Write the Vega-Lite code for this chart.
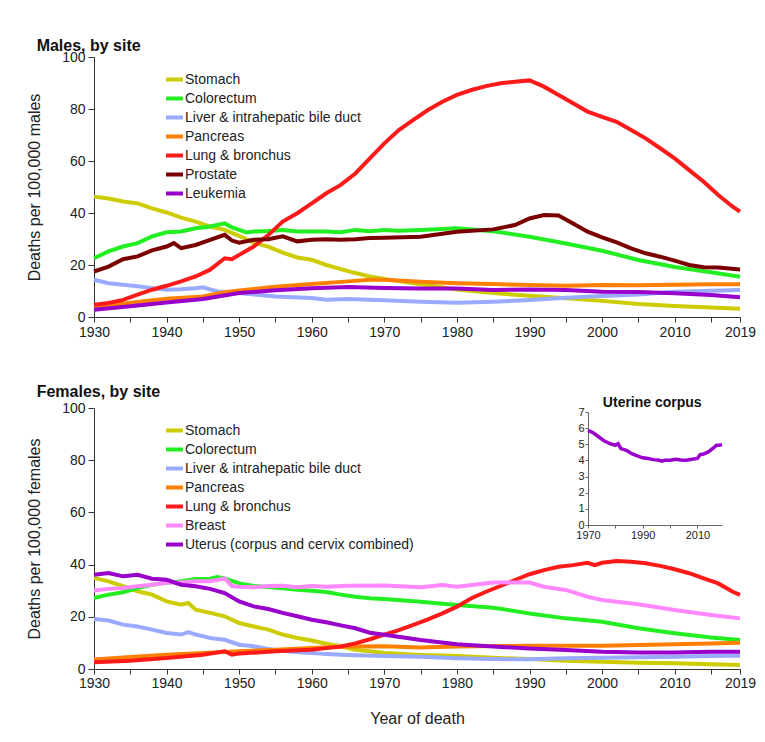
{
  "$schema": "https://vega.github.io/schema/vega-lite/v6.json",
  "padding": {"left": 26, "top": 38, "right": 5, "bottom": 5},
  "bounds": "flush",
  "spacing": 91,
  "config": {
    "view": {"stroke": null},
    "font": "Liberation Sans",
    "axis": {"grid": false, "domainColor": "#333", "tickColor": "#333", "labelColor": "#222", "labelFontSize": 14, "titleFontSize": 16, "titleFontWeight": "normal", "titleColor": "#222", "tickSize": 6, "labelFlush": false, "labelOverlap": false, "labelFont": "Liberation Sans", "titleFont": "Liberation Sans"},
    "legend": {"symbolType": "stroke", "symbolStrokeWidth": 4, "symbolSize": 289, "labelFontSize": 14, "labelColor": "#222", "rowPadding": 0, "labelOffset": 0, "padding": 0, "labelFont": "Liberation Sans", "labelLimit": 400},
    "title": {"anchor": "start", "fontSize": 16, "fontWeight": "bold", "color": "#111", "offset": -4, "dx": 10, "font": "Liberation Sans"}
  },
  "resolve": {"scale": {"color": "independent"}, "legend": {"color": "independent"}},
  "datasets": {
    "males": [
      {"site":"Stomach","year":1930,"rate":46.3},{"site":"Stomach","year":1932,"rate":45.6},{"site":"Stomach","year":1934,"rate":44.4},{"site":"Stomach","year":1936,"rate":43.7},{"site":"Stomach","year":1938,"rate":41.8},{"site":"Stomach","year":1940,"rate":40.2},{"site":"Stomach","year":1942,"rate":38.2},{"site":"Stomach","year":1944,"rate":36.7},{"site":"Stomach","year":1946,"rate":34.8},{"site":"Stomach","year":1948,"rate":33.5},{"site":"Stomach","year":1950,"rate":31.2},{"site":"Stomach","year":1952,"rate":28.6},{"site":"Stomach","year":1954,"rate":27.1},{"site":"Stomach","year":1956,"rate":24.8},{"site":"Stomach","year":1958,"rate":22.9},{"site":"Stomach","year":1960,"rate":22.0},{"site":"Stomach","year":1962,"rate":20.0},{"site":"Stomach","year":1964,"rate":18.4},{"site":"Stomach","year":1966,"rate":16.9},{"site":"Stomach","year":1968,"rate":15.6},{"site":"Stomach","year":1970,"rate":14.6},{"site":"Stomach","year":1972,"rate":13.8},{"site":"Stomach","year":1975,"rate":12.6},{"site":"Stomach","year":1980,"rate":10.6},{"site":"Stomach","year":1985,"rate":9.2},{"site":"Stomach","year":1990,"rate":8.2},{"site":"Stomach","year":1995,"rate":7.2},{"site":"Stomach","year":2000,"rate":6.2},{"site":"Stomach","year":2005,"rate":5.0},{"site":"Stomach","year":2010,"rate":4.2},{"site":"Stomach","year":2015,"rate":3.7},{"site":"Stomach","year":2019,"rate":3.2},
      {"site":"Colorectum","year":1930,"rate":22.6},{"site":"Colorectum","year":1932,"rate":25.2},{"site":"Colorectum","year":1934,"rate":27.1},{"site":"Colorectum","year":1936,"rate":28.4},{"site":"Colorectum","year":1938,"rate":31.0},{"site":"Colorectum","year":1940,"rate":32.6},{"site":"Colorectum","year":1942,"rate":32.9},{"site":"Colorectum","year":1944,"rate":34.1},{"site":"Colorectum","year":1946,"rate":34.8},{"site":"Colorectum","year":1948,"rate":36.0},{"site":"Colorectum","year":1949,"rate":34.5},{"site":"Colorectum","year":1950,"rate":33.5},{"site":"Colorectum","year":1951,"rate":32.5},{"site":"Colorectum","year":1952,"rate":32.9},{"site":"Colorectum","year":1954,"rate":33.1},{"site":"Colorectum","year":1956,"rate":33.5},{"site":"Colorectum","year":1958,"rate":32.9},{"site":"Colorectum","year":1960,"rate":32.9},{"site":"Colorectum","year":1962,"rate":32.9},{"site":"Colorectum","year":1964,"rate":32.6},{"site":"Colorectum","year":1966,"rate":33.5},{"site":"Colorectum","year":1968,"rate":33.0},{"site":"Colorectum","year":1970,"rate":33.5},{"site":"Colorectum","year":1972,"rate":33.2},{"site":"Colorectum","year":1975,"rate":33.5},{"site":"Colorectum","year":1978,"rate":33.8},{"site":"Colorectum","year":1980,"rate":34.1},{"site":"Colorectum","year":1985,"rate":33.0},{"site":"Colorectum","year":1990,"rate":30.9},{"site":"Colorectum","year":1995,"rate":28.3},{"site":"Colorectum","year":2000,"rate":25.5},{"site":"Colorectum","year":2005,"rate":21.9},{"site":"Colorectum","year":2010,"rate":19.2},{"site":"Colorectum","year":2015,"rate":17.2},{"site":"Colorectum","year":2019,"rate":15.5},
      {"site":"Liver & intrahepatic bile duct","year":1930,"rate":14.3},{"site":"Liver & intrahepatic bile duct","year":1932,"rate":13.0},{"site":"Liver & intrahepatic bile duct","year":1934,"rate":12.4},{"site":"Liver & intrahepatic bile duct","year":1936,"rate":11.8},{"site":"Liver & intrahepatic bile duct","year":1938,"rate":11.1},{"site":"Liver & intrahepatic bile duct","year":1940,"rate":10.5},{"site":"Liver & intrahepatic bile duct","year":1942,"rate":10.7},{"site":"Liver & intrahepatic bile duct","year":1944,"rate":11.1},{"site":"Liver & intrahepatic bile duct","year":1945,"rate":11.4},{"site":"Liver & intrahepatic bile duct","year":1947,"rate":9.8},{"site":"Liver & intrahepatic bile duct","year":1950,"rate":9.2},{"site":"Liver & intrahepatic bile duct","year":1955,"rate":7.9},{"site":"Liver & intrahepatic bile duct","year":1960,"rate":7.3},{"site":"Liver & intrahepatic bile duct","year":1962,"rate":6.6},{"site":"Liver & intrahepatic bile duct","year":1965,"rate":6.9},{"site":"Liver & intrahepatic bile duct","year":1970,"rate":6.4},{"site":"Liver & intrahepatic bile duct","year":1975,"rate":5.9},{"site":"Liver & intrahepatic bile duct","year":1980,"rate":5.5},{"site":"Liver & intrahepatic bile duct","year":1985,"rate":5.9},{"site":"Liver & intrahepatic bile duct","year":1990,"rate":6.5},{"site":"Liver & intrahepatic bile duct","year":1995,"rate":7.4},{"site":"Liver & intrahepatic bile duct","year":2000,"rate":8.1},{"site":"Liver & intrahepatic bile duct","year":2005,"rate":8.7},{"site":"Liver & intrahepatic bile duct","year":2010,"rate":9.7},{"site":"Liver & intrahepatic bile duct","year":2015,"rate":10.1},{"site":"Liver & intrahepatic bile duct","year":2019,"rate":10.4},
      {"site":"Pancreas","year":1930,"rate":3.5},{"site":"Pancreas","year":1935,"rate":5.5},{"site":"Pancreas","year":1940,"rate":7.0},{"site":"Pancreas","year":1945,"rate":7.9},{"site":"Pancreas","year":1948,"rate":9.5},{"site":"Pancreas","year":1950,"rate":10.2},{"site":"Pancreas","year":1955,"rate":11.6},{"site":"Pancreas","year":1960,"rate":12.7},{"site":"Pancreas","year":1965,"rate":13.7},{"site":"Pancreas","year":1968,"rate":14.3},{"site":"Pancreas","year":1970,"rate":14.3},{"site":"Pancreas","year":1975,"rate":13.6},{"site":"Pancreas","year":1980,"rate":13.0},{"site":"Pancreas","year":1985,"rate":12.7},{"site":"Pancreas","year":1990,"rate":12.3},{"site":"Pancreas","year":1995,"rate":12.0},{"site":"Pancreas","year":2000,"rate":12.3},{"site":"Pancreas","year":2005,"rate":12.2},{"site":"Pancreas","year":2010,"rate":12.4},{"site":"Pancreas","year":2015,"rate":12.6},{"site":"Pancreas","year":2019,"rate":12.6},
      {"site":"Lung & bronchus","year":1930,"rate":4.7},{"site":"Lung & bronchus","year":1932,"rate":5.4},{"site":"Lung & bronchus","year":1934,"rate":6.6},{"site":"Lung & bronchus","year":1936,"rate":8.6},{"site":"Lung & bronchus","year":1938,"rate":10.5},{"site":"Lung & bronchus","year":1940,"rate":12.0},{"site":"Lung & bronchus","year":1942,"rate":13.7},{"site":"Lung & bronchus","year":1944,"rate":15.6},{"site":"Lung & bronchus","year":1946,"rate":18.2},{"site":"Lung & bronchus","year":1948,"rate":22.6},{"site":"Lung & bronchus","year":1949,"rate":22.2},{"site":"Lung & bronchus","year":1950,"rate":23.9},{"site":"Lung & bronchus","year":1952,"rate":27.1},{"site":"Lung & bronchus","year":1954,"rate":31.5},{"site":"Lung & bronchus","year":1956,"rate":36.7},{"site":"Lung & bronchus","year":1958,"rate":39.9},{"site":"Lung & bronchus","year":1960,"rate":43.7},{"site":"Lung & bronchus","year":1962,"rate":47.6},{"site":"Lung & bronchus","year":1964,"rate":50.8},{"site":"Lung & bronchus","year":1966,"rate":55.2},{"site":"Lung & bronchus","year":1968,"rate":61.0},{"site":"Lung & bronchus","year":1970,"rate":66.8},{"site":"Lung & bronchus","year":1972,"rate":71.9},{"site":"Lung & bronchus","year":1974,"rate":75.8},{"site":"Lung & bronchus","year":1976,"rate":79.6},{"site":"Lung & bronchus","year":1978,"rate":82.8},{"site":"Lung & bronchus","year":1980,"rate":85.4},{"site":"Lung & bronchus","year":1982,"rate":87.3},{"site":"Lung & bronchus","year":1984,"rate":88.8},{"site":"Lung & bronchus","year":1986,"rate":89.9},{"site":"Lung & bronchus","year":1988,"rate":90.5},{"site":"Lung & bronchus","year":1990,"rate":91.0},{"site":"Lung & bronchus","year":1992,"rate":88.6},{"site":"Lung & bronchus","year":1994,"rate":85.4},{"site":"Lung & bronchus","year":1996,"rate":82.2},{"site":"Lung & bronchus","year":1998,"rate":79.0},{"site":"Lung & bronchus","year":2000,"rate":77.0},{"site":"Lung & bronchus","year":2002,"rate":75.1},{"site":"Lung & bronchus","year":2004,"rate":71.9},{"site":"Lung & bronchus","year":2006,"rate":68.7},{"site":"Lung & bronchus","year":2008,"rate":64.9},{"site":"Lung & bronchus","year":2010,"rate":61.0},{"site":"Lung & bronchus","year":2012,"rate":56.5},{"site":"Lung & bronchus","year":2014,"rate":52.0},{"site":"Lung & bronchus","year":2016,"rate":46.9},{"site":"Lung & bronchus","year":2018,"rate":42.4},{"site":"Lung & bronchus","year":2019,"rate":40.5},
      {"site":"Prostate","year":1930,"rate":17.5},{"site":"Prostate","year":1932,"rate":19.4},{"site":"Prostate","year":1934,"rate":22.2},{"site":"Prostate","year":1936,"rate":23.3},{"site":"Prostate","year":1938,"rate":25.6},{"site":"Prostate","year":1940,"rate":27.1},{"site":"Prostate","year":1941,"rate":28.4},{"site":"Prostate","year":1942,"rate":26.5},{"site":"Prostate","year":1944,"rate":27.7},{"site":"Prostate","year":1946,"rate":29.7},{"site":"Prostate","year":1948,"rate":31.6},{"site":"Prostate","year":1949,"rate":29.4},{"site":"Prostate","year":1950,"rate":28.6},{"site":"Prostate","year":1952,"rate":29.7},{"site":"Prostate","year":1954,"rate":29.9},{"site":"Prostate","year":1956,"rate":31.0},{"site":"Prostate","year":1958,"rate":29.1},{"site":"Prostate","year":1960,"rate":29.7},{"site":"Prostate","year":1962,"rate":29.9},{"site":"Prostate","year":1964,"rate":29.7},{"site":"Prostate","year":1966,"rate":29.9},{"site":"Prostate","year":1968,"rate":30.4},{"site":"Prostate","year":1970,"rate":30.5},{"site":"Prostate","year":1975,"rate":30.9},{"site":"Prostate","year":1980,"rate":32.8},{"site":"Prostate","year":1985,"rate":33.7},{"site":"Prostate","year":1988,"rate":35.4},{"site":"Prostate","year":1990,"rate":37.9},{"site":"Prostate","year":1992,"rate":39.2},{"site":"Prostate","year":1994,"rate":39.0},{"site":"Prostate","year":1996,"rate":36.0},{"site":"Prostate","year":1998,"rate":32.8},{"site":"Prostate","year":2000,"rate":30.6},{"site":"Prostate","year":2002,"rate":28.7},{"site":"Prostate","year":2004,"rate":26.4},{"site":"Prostate","year":2006,"rate":24.5},{"site":"Prostate","year":2008,"rate":23.2},{"site":"Prostate","year":2010,"rate":21.7},{"site":"Prostate","year":2012,"rate":20.0},{"site":"Prostate","year":2014,"rate":19.1},{"site":"Prostate","year":2016,"rate":19.0},{"site":"Prostate","year":2019,"rate":18.3},
      {"site":"Leukemia","year":1930,"rate":2.8},{"site":"Leukemia","year":1935,"rate":4.1},{"site":"Leukemia","year":1940,"rate":5.6},{"site":"Leukemia","year":1945,"rate":6.9},{"site":"Leukemia","year":1950,"rate":9.2},{"site":"Leukemia","year":1955,"rate":10.3},{"site":"Leukemia","year":1960,"rate":11.1},{"site":"Leukemia","year":1965,"rate":11.5},{"site":"Leukemia","year":1970,"rate":11.2},{"site":"Leukemia","year":1975,"rate":11.0},{"site":"Leukemia","year":1980,"rate":11.0},{"site":"Leukemia","year":1985,"rate":10.4},{"site":"Leukemia","year":1990,"rate":10.6},{"site":"Leukemia","year":1995,"rate":10.4},{"site":"Leukemia","year":2000,"rate":9.7},{"site":"Leukemia","year":2005,"rate":9.6},{"site":"Leukemia","year":2010,"rate":9.1},{"site":"Leukemia","year":2015,"rate":8.5},{"site":"Leukemia","year":2019,"rate":7.6}
    ],
    "females": [
      {"site":"Stomach","year":1930,"rate":34.9},{"site":"Stomach","year":1932,"rate":33.6},{"site":"Stomach","year":1934,"rate":31.7},{"site":"Stomach","year":1936,"rate":29.8},{"site":"Stomach","year":1938,"rate":28.5},{"site":"Stomach","year":1940,"rate":25.9},{"site":"Stomach","year":1942,"rate":24.6},{"site":"Stomach","year":1943,"rate":25.3},{"site":"Stomach","year":1944,"rate":22.7},{"site":"Stomach","year":1946,"rate":21.5},{"site":"Stomach","year":1948,"rate":20.2},{"site":"Stomach","year":1950,"rate":17.6},{"site":"Stomach","year":1952,"rate":16.3},{"site":"Stomach","year":1954,"rate":15.1},{"site":"Stomach","year":1956,"rate":13.2},{"site":"Stomach","year":1958,"rate":11.9},{"site":"Stomach","year":1960,"rate":10.9},{"site":"Stomach","year":1962,"rate":9.7},{"site":"Stomach","year":1964,"rate":8.7},{"site":"Stomach","year":1966,"rate":7.4},{"site":"Stomach","year":1968,"rate":6.8},{"site":"Stomach","year":1970,"rate":6.1},{"site":"Stomach","year":1975,"rate":5.4},{"site":"Stomach","year":1980,"rate":5.0},{"site":"Stomach","year":1985,"rate":4.3},{"site":"Stomach","year":1990,"rate":3.8},{"site":"Stomach","year":1995,"rate":3.2},{"site":"Stomach","year":2000,"rate":2.8},{"site":"Stomach","year":2005,"rate":2.4},{"site":"Stomach","year":2010,"rate":2.2},{"site":"Stomach","year":2015,"rate":1.8},{"site":"Stomach","year":2019,"rate":1.5},
      {"site":"Colorectum","year":1930,"rate":27.2},{"site":"Colorectum","year":1932,"rate":28.5},{"site":"Colorectum","year":1934,"rate":29.4},{"site":"Colorectum","year":1936,"rate":31.0},{"site":"Colorectum","year":1938,"rate":32.3},{"site":"Colorectum","year":1940,"rate":33.0},{"site":"Colorectum","year":1942,"rate":33.6},{"site":"Colorectum","year":1944,"rate":34.5},{"site":"Colorectum","year":1946,"rate":34.6},{"site":"Colorectum","year":1947,"rate":35.2},{"site":"Colorectum","year":1948,"rate":34.7},{"site":"Colorectum","year":1950,"rate":32.8},{"site":"Colorectum","year":1952,"rate":31.8},{"site":"Colorectum","year":1954,"rate":31.4},{"site":"Colorectum","year":1956,"rate":30.9},{"site":"Colorectum","year":1958,"rate":30.4},{"site":"Colorectum","year":1960,"rate":30.0},{"site":"Colorectum","year":1962,"rate":29.5},{"site":"Colorectum","year":1964,"rate":28.5},{"site":"Colorectum","year":1966,"rate":27.7},{"site":"Colorectum","year":1968,"rate":27.1},{"site":"Colorectum","year":1970,"rate":26.8},{"site":"Colorectum","year":1975,"rate":25.8},{"site":"Colorectum","year":1980,"rate":24.5},{"site":"Colorectum","year":1985,"rate":23.5},{"site":"Colorectum","year":1990,"rate":21.3},{"site":"Colorectum","year":1995,"rate":19.4},{"site":"Colorectum","year":2000,"rate":18.1},{"site":"Colorectum","year":2005,"rate":15.6},{"site":"Colorectum","year":2010,"rate":13.7},{"site":"Colorectum","year":2015,"rate":12.1},{"site":"Colorectum","year":2019,"rate":11.1},
      {"site":"Liver & intrahepatic bile duct","year":1930,"rate":19.2},{"site":"Liver & intrahepatic bile duct","year":1932,"rate":18.6},{"site":"Liver & intrahepatic bile duct","year":1934,"rate":17.0},{"site":"Liver & intrahepatic bile duct","year":1936,"rate":16.3},{"site":"Liver & intrahepatic bile duct","year":1938,"rate":15.1},{"site":"Liver & intrahepatic bile duct","year":1940,"rate":13.8},{"site":"Liver & intrahepatic bile duct","year":1942,"rate":13.2},{"site":"Liver & intrahepatic bile duct","year":1943,"rate":14.1},{"site":"Liver & intrahepatic bile duct","year":1944,"rate":13.2},{"site":"Liver & intrahepatic bile duct","year":1946,"rate":11.9},{"site":"Liver & intrahepatic bile duct","year":1948,"rate":11.2},{"site":"Liver & intrahepatic bile duct","year":1950,"rate":9.3},{"site":"Liver & intrahepatic bile duct","year":1952,"rate":8.7},{"site":"Liver & intrahepatic bile duct","year":1954,"rate":7.7},{"site":"Liver & intrahepatic bile duct","year":1956,"rate":7.0},{"site":"Liver & intrahepatic bile duct","year":1958,"rate":6.4},{"site":"Liver & intrahepatic bile duct","year":1960,"rate":6.1},{"site":"Liver & intrahepatic bile duct","year":1962,"rate":5.7},{"site":"Liver & intrahepatic bile duct","year":1965,"rate":5.4},{"site":"Liver & intrahepatic bile duct","year":1970,"rate":5.0},{"site":"Liver & intrahepatic bile duct","year":1975,"rate":4.7},{"site":"Liver & intrahepatic bile duct","year":1980,"rate":4.1},{"site":"Liver & intrahepatic bile duct","year":1985,"rate":3.8},{"site":"Liver & intrahepatic bile duct","year":1990,"rate":3.7},{"site":"Liver & intrahepatic bile duct","year":1995,"rate":4.1},{"site":"Liver & intrahepatic bile duct","year":2000,"rate":4.3},{"site":"Liver & intrahepatic bile duct","year":2005,"rate":4.5},{"site":"Liver & intrahepatic bile duct","year":2010,"rate":4.7},{"site":"Liver & intrahepatic bile duct","year":2015,"rate":5.0},{"site":"Liver & intrahepatic bile duct","year":2019,"rate":5.1},
      {"site":"Pancreas","year":1930,"rate":3.6},{"site":"Pancreas","year":1935,"rate":4.6},{"site":"Pancreas","year":1940,"rate":5.5},{"site":"Pancreas","year":1945,"rate":6.1},{"site":"Pancreas","year":1950,"rate":6.8},{"site":"Pancreas","year":1955,"rate":7.4},{"site":"Pancreas","year":1960,"rate":8.0},{"site":"Pancreas","year":1965,"rate":8.6},{"site":"Pancreas","year":1970,"rate":8.7},{"site":"Pancreas","year":1975,"rate":8.2},{"site":"Pancreas","year":1980,"rate":8.6},{"site":"Pancreas","year":1985,"rate":8.8},{"site":"Pancreas","year":1990,"rate":8.9},{"site":"Pancreas","year":1995,"rate":8.9},{"site":"Pancreas","year":2000,"rate":8.9},{"site":"Pancreas","year":2005,"rate":9.2},{"site":"Pancreas","year":2010,"rate":9.5},{"site":"Pancreas","year":2015,"rate":9.8},{"site":"Pancreas","year":2019,"rate":10.1},
      {"site":"Lung & bronchus","year":1930,"rate":2.6},{"site":"Lung & bronchus","year":1935,"rate":3.2},{"site":"Lung & bronchus","year":1940,"rate":4.2},{"site":"Lung & bronchus","year":1945,"rate":5.5},{"site":"Lung & bronchus","year":1948,"rate":6.8},{"site":"Lung & bronchus","year":1949,"rate":5.5},{"site":"Lung & bronchus","year":1950,"rate":5.9},{"site":"Lung & bronchus","year":1955,"rate":6.8},{"site":"Lung & bronchus","year":1960,"rate":7.4},{"site":"Lung & bronchus","year":1962,"rate":8.0},{"site":"Lung & bronchus","year":1964,"rate":8.6},{"site":"Lung & bronchus","year":1966,"rate":9.8},{"site":"Lung & bronchus","year":1968,"rate":11.4},{"site":"Lung & bronchus","year":1970,"rate":13.2},{"site":"Lung & bronchus","year":1972,"rate":14.9},{"site":"Lung & bronchus","year":1974,"rate":16.9},{"site":"Lung & bronchus","year":1976,"rate":19.0},{"site":"Lung & bronchus","year":1978,"rate":21.3},{"site":"Lung & bronchus","year":1980,"rate":23.9},{"site":"Lung & bronchus","year":1982,"rate":27.1},{"site":"Lung & bronchus","year":1984,"rate":29.6},{"site":"Lung & bronchus","year":1986,"rate":31.8},{"site":"Lung & bronchus","year":1988,"rate":34.1},{"site":"Lung & bronchus","year":1990,"rate":36.3},{"site":"Lung & bronchus","year":1992,"rate":37.9},{"site":"Lung & bronchus","year":1994,"rate":39.2},{"site":"Lung & bronchus","year":1996,"rate":39.8},{"site":"Lung & bronchus","year":1998,"rate":40.7},{"site":"Lung & bronchus","year":1999,"rate":39.8},{"site":"Lung & bronchus","year":2000,"rate":40.7},{"site":"Lung & bronchus","year":2002,"rate":41.4},{"site":"Lung & bronchus","year":2004,"rate":41.1},{"site":"Lung & bronchus","year":2006,"rate":40.5},{"site":"Lung & bronchus","year":2008,"rate":39.5},{"site":"Lung & bronchus","year":2010,"rate":38.2},{"site":"Lung & bronchus","year":2012,"rate":36.7},{"site":"Lung & bronchus","year":2014,"rate":34.7},{"site":"Lung & bronchus","year":2016,"rate":32.8},{"site":"Lung & bronchus","year":2018,"rate":29.6},{"site":"Lung & bronchus","year":2019,"rate":28.4},
      {"site":"Breast","year":1930,"rate":30.1},{"site":"Breast","year":1932,"rate":30.7},{"site":"Breast","year":1934,"rate":31.0},{"site":"Breast","year":1936,"rate":31.7},{"site":"Breast","year":1938,"rate":32.3},{"site":"Breast","year":1940,"rate":33.0},{"site":"Breast","year":1942,"rate":33.2},{"site":"Breast","year":1944,"rate":33.6},{"site":"Breast","year":1946,"rate":33.6},{"site":"Breast","year":1947,"rate":34.1},{"site":"Breast","year":1948,"rate":34.7},{"site":"Breast","year":1949,"rate":31.8},{"site":"Breast","year":1950,"rate":31.5},{"site":"Breast","year":1952,"rate":31.3},{"site":"Breast","year":1954,"rate":31.8},{"site":"Breast","year":1956,"rate":31.9},{"site":"Breast","year":1958,"rate":31.3},{"site":"Breast","year":1960,"rate":31.8},{"site":"Breast","year":1962,"rate":31.5},{"site":"Breast","year":1965,"rate":31.9},{"site":"Breast","year":1970,"rate":32.0},{"site":"Breast","year":1975,"rate":31.3},{"site":"Breast","year":1978,"rate":32.2},{"site":"Breast","year":1980,"rate":31.5},{"site":"Breast","year":1985,"rate":33.1},{"site":"Breast","year":1990,"rate":33.1},{"site":"Breast","year":1992,"rate":31.5},{"site":"Breast","year":1995,"rate":30.3},{"site":"Breast","year":1998,"rate":27.7},{"site":"Breast","year":2000,"rate":26.4},{"site":"Breast","year":2005,"rate":24.8},{"site":"Breast","year":2010,"rate":22.6},{"site":"Breast","year":2015,"rate":20.7},{"site":"Breast","year":2019,"rate":19.4},
      {"site":"Uterus (corpus and cervix combined)","year":1930,"rate":36.1},{"site":"Uterus (corpus and cervix combined)","year":1932,"rate":36.8},{"site":"Uterus (corpus and cervix combined)","year":1934,"rate":35.5},{"site":"Uterus (corpus and cervix combined)","year":1936,"rate":36.1},{"site":"Uterus (corpus and cervix combined)","year":1938,"rate":34.6},{"site":"Uterus (corpus and cervix combined)","year":1940,"rate":34.2},{"site":"Uterus (corpus and cervix combined)","year":1942,"rate":32.3},{"site":"Uterus (corpus and cervix combined)","year":1944,"rate":31.7},{"site":"Uterus (corpus and cervix combined)","year":1946,"rate":30.7},{"site":"Uterus (corpus and cervix combined)","year":1948,"rate":29.1},{"site":"Uterus (corpus and cervix combined)","year":1950,"rate":25.9},{"site":"Uterus (corpus and cervix combined)","year":1952,"rate":24.0},{"site":"Uterus (corpus and cervix combined)","year":1954,"rate":23.0},{"site":"Uterus (corpus and cervix combined)","year":1956,"rate":21.5},{"site":"Uterus (corpus and cervix combined)","year":1958,"rate":20.2},{"site":"Uterus (corpus and cervix combined)","year":1960,"rate":18.9},{"site":"Uterus (corpus and cervix combined)","year":1962,"rate":17.9},{"site":"Uterus (corpus and cervix combined)","year":1964,"rate":16.7},{"site":"Uterus (corpus and cervix combined)","year":1966,"rate":15.6},{"site":"Uterus (corpus and cervix combined)","year":1968,"rate":13.9},{"site":"Uterus (corpus and cervix combined)","year":1970,"rate":13.1},{"site":"Uterus (corpus and cervix combined)","year":1975,"rate":11.1},{"site":"Uterus (corpus and cervix combined)","year":1980,"rate":9.5},{"site":"Uterus (corpus and cervix combined)","year":1985,"rate":8.6},{"site":"Uterus (corpus and cervix combined)","year":1990,"rate":7.9},{"site":"Uterus (corpus and cervix combined)","year":1995,"rate":7.3},{"site":"Uterus (corpus and cervix combined)","year":2000,"rate":6.6},{"site":"Uterus (corpus and cervix combined)","year":2005,"rate":6.3},{"site":"Uterus (corpus and cervix combined)","year":2010,"rate":6.3},{"site":"Uterus (corpus and cervix combined)","year":2015,"rate":6.6},{"site":"Uterus (corpus and cervix combined)","year":2019,"rate":6.6}
    ],
    "corpus": [
      {"year":1970,"rate":5.86},{"year":1972,"rate":5.7},{"year":1974,"rate":5.45},{"year":1976,"rate":5.2},{"year":1978,"rate":5.04},{"year":1980,"rate":4.94},{"year":1981,"rate":5.04},{"year":1982,"rate":4.73},{"year":1984,"rate":4.63},{"year":1986,"rate":4.42},{"year":1988,"rate":4.28},{"year":1990,"rate":4.16},{"year":1992,"rate":4.12},{"year":1994,"rate":4.05},{"year":1996,"rate":4.01},{"year":1997,"rate":3.95},{"year":1998,"rate":4.01},{"year":2000,"rate":4.01},{"year":2002,"rate":4.07},{"year":2004,"rate":4.03},{"year":2006,"rate":4.01},{"year":2008,"rate":4.07},{"year":2010,"rate":4.12},{"year":2011,"rate":4.36},{"year":2012,"rate":4.38},{"year":2014,"rate":4.53},{"year":2016,"rate":4.8},{"year":2017,"rate":4.94},{"year":2018,"rate":4.94},{"year":2019,"rate":4.98}
    ],
    "corpusTitle": [{"label": "Uterine corpus", "year": 1993.5, "rate": 7.55}]
  },
  "vconcat": [
    {
      "title": {"text": "Males, by site"},
      "width": 646,
      "height": 260,
      "data": {"name": "males"},
      "mark": {"type": "line", "strokeWidth": 4},
      "encoding": {
        "x": {"field": "year", "type": "quantitative", "scale": {"domain": [1930, 2019], "nice": false, "zero": false},
              "axis": {"title": null, "values": [1930,1935,1940,1945,1950,1955,1960,1965,1970,1975,1980,1985,1990,1995,2000,2005,2010,2015,2019], "format": "d", "labelExpr": "datum.value % 10 === 0 || datum.value === 2019 ? datum.label : ''", "tickSize": 5, "labelPadding": 3}},
        "y": {"field": "rate", "type": "quantitative", "scale": {"domain": [0, 100], "nice": false},
              "axis": {"title": "Deaths per 100,000 males", "values": [0,20,40,60,80,100], "labelPadding": 3, "titlePadding": 19}},
        "color": {"field": "site", "type": "nominal",
                  "scale": {"domain": ["Stomach","Colorectum","Liver & intrahepatic bile duct","Pancreas","Lung & bronchus","Prostate","Leukemia"],
                            "range": ["#cccc00","#22ee22","#99aaff","#ff8000","#ff1a1a","#7a0000","#9900cc"]},
                  "legend": {"orient": "none", "legendX": 70, "legendY": 12, "title": null}}
      }
    },
    {
      "title": {"text": "Females, by site"},
      "width": 646,
      "height": 261,
      "layer": [
        {
          "data": {"name": "females"},
          "mark": {"type": "line", "strokeWidth": 4},
          "encoding": {
            "x": {"field": "year", "type": "quantitative", "scale": {"domain": [1930, 2019], "nice": false, "zero": false},
                  "axis": {"title": "Year of death", "titlePadding": 20, "values": [1930,1935,1940,1945,1950,1955,1960,1965,1970,1975,1980,1985,1990,1995,2000,2005,2010,2015,2019], "format": "d", "labelExpr": "datum.value % 10 === 0 || datum.value === 2019 ? datum.label : ''", "tickSize": 5, "labelPadding": 2}},
            "y": {"field": "rate", "type": "quantitative", "scale": {"domain": [0, 100], "nice": false},
                  "axis": {"title": "Deaths per 100,000 females", "values": [0,20,40,60,80,100], "labelPadding": 3, "titlePadding": 19}},
            "color": {"field": "site", "type": "nominal",
                      "scale": {"domain": ["Stomach","Colorectum","Liver & intrahepatic bile duct","Pancreas","Lung & bronchus","Breast","Uterus (corpus and cervix combined)"],
                                "range": ["#cccc00","#22ee22","#99aaff","#ff8000","#ff1a1a","#ff88ff","#9900cc"]},
                      "legend": {"orient": "none", "legendX": 70, "legendY": 12, "title": null}}
          }
        },
        {
          "encoding": {
            "x": {"field": "year", "type": "quantitative", "scale": {"domain": [1970, 2019], "nice": false, "zero": false, "range": [494, 628]},
                  "axis": {"orient": "bottom", "offset": -144, "title": null, "values": [1970,1980,1990,2000,2010], "format": "d", "labelExpr": "datum.value % 20 === 10 ? datum.label : ''", "labelFontSize": 11, "tickSize": 3, "labelPadding": 1, "domainColor": "#666", "tickColor": "#666"}},
            "y": {"field": "rate", "type": "quantitative", "scale": {"domain": [0, 7], "nice": false, "range": [117, 4]},
                  "axis": {"orient": "left", "offset": -494, "title": null, "values": [0,1,2,3,4,5,6,7], "labelFontSize": 11, "tickSize": 3, "labelPadding": 1, "domainColor": "#666", "tickColor": "#666"}}
          },
          "layer": [
            {
              "data": {"name": "corpus"},
              "mark": {"type": "line", "strokeWidth": 3.5, "color": "#9900cc"}
            },
            {
              "data": {"name": "corpusTitle"},
              "mark": {"type": "text", "fontSize": 14, "fontWeight": "bold", "color": "#111", "baseline": "middle", "align": "center", "font": "Liberation Sans"},
              "encoding": {
                "text": {"field": "label"}
              }
            }
          ]
        }
      ],
      "resolve": {"scale": {"x": "independent", "y": "independent"}, "axis": {"x": "independent", "y": "independent"}}
    }
  ]
}
